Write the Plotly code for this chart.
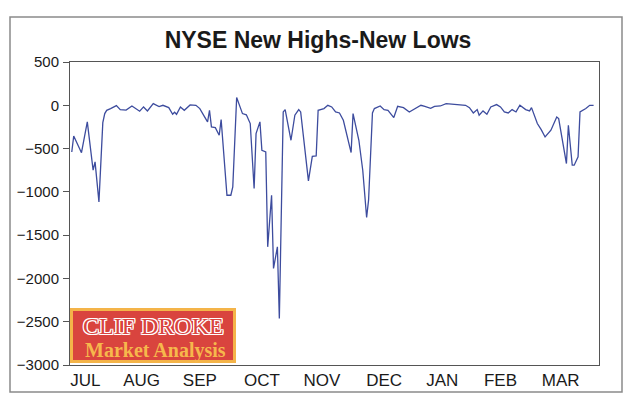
import pandas as pd
import plotly.graph_objects as go

# Days after 1 July (positions)
day_offset = [0, 1, 5, 8, 11, 12, 14, 16, 17, 18, 20, 23, 25, 28, 31, 33, 35, 37, 39, 42,
              45, 47, 50, 52, 53, 54, 56, 58, 61, 64, 66, 69, 70, 71, 72, 74, 76, 77, 80, 82,
              83, 85, 87, 88, 90, 92, 94, 95, 97, 98, 100, 101, 103, 104, 106, 107, 109, 110, 113, 115,
              117, 118, 122, 124, 126, 127, 130, 132, 134, 136, 138, 140, 144, 145, 148, 150, 152, 153, 155, 156,
              159, 161, 163, 166, 168, 171, 174, 177, 180, 182, 185, 187, 190, 193, 196, 199, 203, 205, 207, 209,
              210, 212, 214, 216, 219, 221, 223, 225, 227, 229, 231, 234, 236, 237, 240, 242, 244, 247, 250, 251,
              255, 256, 258, 259, 261, 262, 265, 267, 269]
hi_lo = [-540, -355, -548, -192, -750, -654, -1116, -200, -96, -58, -38, -4, -50, -55, -8, -38, -69, -19, -65, 19,
         -15, 0, -27, -104, -81, -104, -19, -58, 4, 0, -38, -154, -192, -58, -250, -258, -346, -165, -1039, -1039,
         -943, 89, -38, -96, -110, -211, -962, -327, -192, -519, -539, -1635, -1039, -1885, -1635, -2462, -77, -50, -404, -115,
         -50, -77, -873, -589, -585, -58, -38, 0, -19, -77, -89, -173, -546, -96, -404, -750, -1296, -1096, -89, -38,
         -8, -50, -58, -142, -12, -27, -77, -38, 0, -12, -35, -12, -8, 19, 12, 8, 0, -27, -89, -50,
         -115, -65, -104, -19, 8, -19, -77, -89, -50, -77, 0, -50, -65, -27, -211, -281, -366, -288, -135, -154,
         -673, -231, -692, -692, -596, -77, -38, 0, 0]

month_ticks = ["2008-07-08", "2008-08-06", "2008-09-05", "2008-10-07", "2008-11-07",
               "2008-12-09", "2009-01-08", "2009-02-07", "2009-03-10"]
month_labels = ["JUL", "AUG", "SEP", "OCT", "NOV", "DEC", "JAN", "FEB", "MAR"]
y_ticks = [500, 0, -500, -1000, -1500, -2000, -2500, -3000]

dates = pd.Timestamp("2008-07-01") + pd.to_timedelta(day_offset, unit="D")

fig = go.Figure()
fig.add_trace(go.Scatter(x=dates, y=hi_lo, mode="lines",
                         line=dict(color="#3d4c9e", width=1.3), showlegend=False,
                         hoverinfo="x+y"))

# page body adds an 8px margin, so the figure is laid out 8px smaller/shifted
OFF = 8
W, H = 639 - OFF, 410 - OFF
L, R, T, B = 70 - OFF, 40, 62 - OFF, 45
pw, ph = W - L - R, H - T - B

def px(xp):
    return (xp - OFF - L) / pw

def py(yp):
    return (H - B - (yp - OFF)) / ph

shapes = [
    # outer frame
    dict(type="rect", xref="paper", yref="paper", x0=px(10), x1=px(622), y0=py(392), y1=py(17),
         line=dict(color="#8a8a8a", width=1.5), fillcolor="rgba(0,0,0,0)", layer="below"),
    # logo box
    dict(type="rect", xref="paper", yref="paper", x0=px(71.5), x1=px(234.5), y0=py(361.5), y1=py(309.5),
         line=dict(color="#f4b449", width=3), fillcolor="#d9443e", layer="above"),
]

annotations = [
    dict(text="CLIF DROKE", xref="paper", yref="paper", x=px(153), y=py(326), xanchor="center",
         yanchor="middle", showarrow=False,
         font=dict(family="Liberation Serif", size=24, color="#d9443e",
                   shadow="1px 0 0 #fff, -1px 0 0 #fff, 0 1px 0 #fff, 0 -1px 0 #fff, 1px 1px 0 #fff, -1px -1px 0 #fff, 1px -1px 0 #fff, -1px 1px 0 #fff"),
         ),
    dict(text="<b>Market Analysis</b>", xref="paper", yref="paper", x=px(155), y=py(350), xanchor="center",
         yanchor="middle", showarrow=False,
         font=dict(family="Liberation Serif", size=20, color="#f6b84c")),
]

fig.update_layout(
    width=W, height=H,
    margin=dict(l=L, r=R, t=T, b=B, autoexpand=False),
    paper_bgcolor="white", plot_bgcolor="white",
    title=dict(text="<b>NYSE New Highs-New Lows</b>", x=(318 - OFF) / W, xanchor="center",
               y=1 - (40 - OFF) / H, yanchor="middle", yref="container",
               font=dict(family="Liberation Sans", size=23, color="#1a1a1a")),
    xaxis=dict(type="date", range=["2008-06-30 02:00", "2009-03-29 19:00"],
               tickmode="array", tickvals=month_ticks, ticktext=month_labels,
               showgrid=False, zeroline=False, ticks="", showline=True, mirror=True,
               linecolor="#555555", linewidth=1,
               tickfont=dict(family="Liberation Sans", size=17, color="#1a1a1a")),
    yaxis=dict(range=[-3000, 500], tickmode="array", tickvals=y_ticks,
               showgrid=False, zeroline=False, ticks="outside", ticklen=6, tickcolor="#555555",
               showline=True, mirror=True, linecolor="#555555", linewidth=1,
               ticklabelstandoff=1,
               tickfont=dict(family="Liberation Sans", size=15, color="#1a1a1a")),
    shapes=shapes,
    annotations=annotations,
)

fig.write_html("out.html")
